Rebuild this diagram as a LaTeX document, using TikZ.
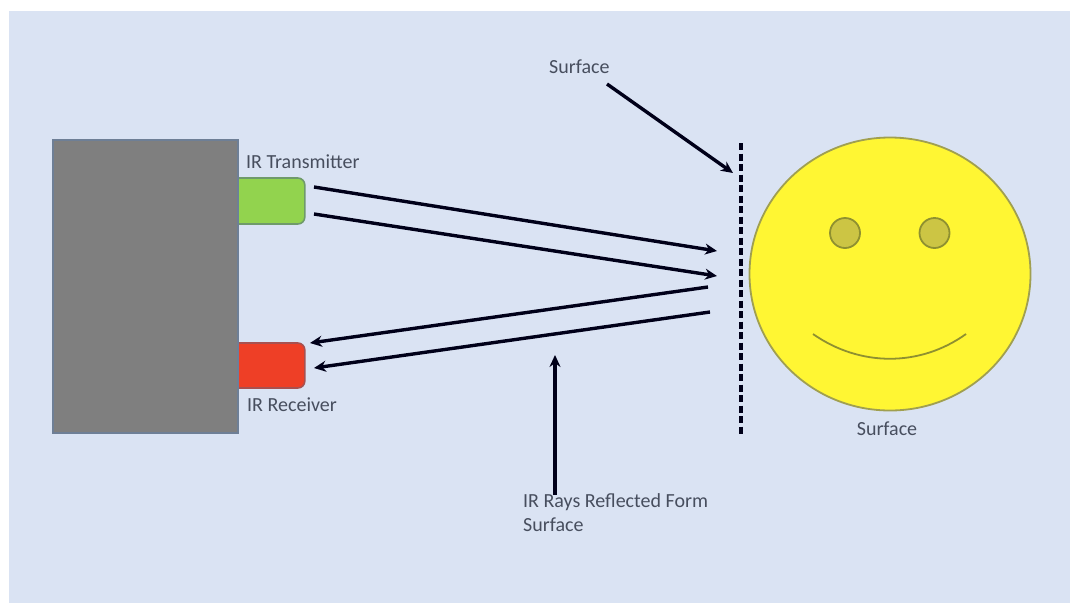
\documentclass[tikz,border=0pt]{standalone}
\usepackage{fontspec}
\setmainfont{Carlito}
\usepackage{tikz}
\usetikzlibrary{shapes.geometric,arrows.meta}

\definecolor{panelblue}{HTML}{DAE3F3}
\definecolor{boxgray}{HTML}{7F7F7F}
\definecolor{boxedge}{HTML}{6E7F96}
\definecolor{txgreen}{HTML}{92D34E}
\definecolor{txedge}{HTML}{6F9A6A}
\definecolor{rxred}{HTML}{EE3F26}
\definecolor{rxedge}{HTML}{A8504F}
\definecolor{faceyellow}{HTML}{FFF633}
\definecolor{faceedge}{HTML}{A09F50}
\definecolor{eyefill}{HTML}{CCC544}
\definecolor{eyeedge}{HTML}{8F9030}
\definecolor{labelgray}{HTML}{474E5E}

\begin{document}
\begin{tikzpicture}
          [x = 1pt, y = -1pt, >= {Stealth[length = 12pt, width = 11pt]},
           lbl/.style = {text = labelgray, font = \fontsize{20}{24}\selectfont, inner sep = 0pt, anchor = west, align = left},
           ray/.style = {->, line width = 3.4pt, black!90!blue},
           led/.style = {rectangle, rounded corners = 7pt, minimum width = 79pt, line width = 1.6pt, inner sep = 0pt, anchor = west},
           eye/.style = {circle, minimum size = 30pt, inner sep = 0pt, draw = eyeedge, fill = eyefill, line width = 1.8pt}]
          \useasboundingbox (0,0) rectangle (1070,603);
          \fill[white] (0,0) rectangle (1070,603);
          \fill[panelblue] (9,11) rectangle (1070,603);

          \node[led, draw = txedge, fill = txgreen, minimum height = 46pt] (tx) at (225,201) {};
          \node[led, draw = rxedge, fill = rxred, minimum height = 45pt] (rx) at (225,365.5) {};
          \node[rectangle, draw = boxedge, fill = boxgray, line width = 1.6pt, minimum width = 185pt, minimum height = 293pt, inner sep = 0pt] (body) at (145.5,286.5) {};

          \node[lbl] (txlabel) at (246,162) {IR Transmitter};
          \node[lbl] (rxlabel) at (247,405) {IR Receiver};
          \node[lbl] (toplabel) at (549,67) {Surface};
          \node[lbl, anchor = center] (facelabel) at (887,429) {Surface};
          \node[lbl, anchor = north west] (raylabel) at (523,493) {IR Rays Reflected Form\\Surface};

          % face
          \node[ellipse, draw = faceedge, fill = faceyellow, line width = 1.8pt, minimum width = 281pt, minimum height = 273pt, inner sep = 0pt] (face) at (890,274) {};
          \node[eye] (lefteye) at (845,233) {};
          \node[eye] (righteye) at (934.5,233) {};
          \coordinate (smilea) at (813,334);
          \coordinate (smileb) at (966,334);
          \draw[eyeedge, line width = 1.8pt] (smilea) .. controls (860,367) and (920,367) .. (smileb);

          \coordinate (walltop) at (741,143);
          \coordinate (wallbot) at (741,436);
          \draw[line width = 3.6pt, dash pattern = on 7pt off 3.5pt, black!90!blue] (walltop) -- (wallbot);

          % rays
          \coordinate (outa) at (314,187);
          \coordinate (outb) at (314,214);
          \coordinate (hita) at (717,251);
          \coordinate (hitb) at (717,276);
          \coordinate (backa) at (708,287);
          \coordinate (backb) at (710,312);
          \coordinate (inb) at (314,368);
          \coordinate (ina) at (310,343);
          \draw[ray] (outa) -- (hita);
          \draw[ray] (outb) -- (hitb);
          \draw[ray] (backa) -- (ina);
          \draw[ray] (backb) -- (inb);

          \coordinate (surfstart) at (607,84);
          \coordinate (surfend) at (733,173);
          \draw[ray] (surfstart) -- (surfend);
          \coordinate (notestart) at (555,495);
          \coordinate (noteend) at (555,355);
          \draw[ray] (notestart) -- (noteend);
        \end{tikzpicture}
\end{document}
